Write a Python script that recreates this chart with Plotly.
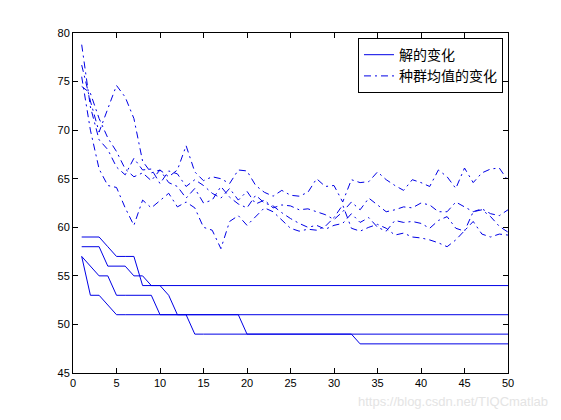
import plotly.graph_objects as go

gens = list(range(1, 51))

# best solution per generation (4 runs)
best_1 = [59, 59, 59, 58, 57, 57, 57, 54, 54, 54] + [54] * 40
best_2 = [58, 58, 58, 56, 56, 56, 55, 55, 54, 54, 53, 51, 51, 49] + [49] * 18 + [48] * 18
best_3 = [57, 53, 53, 52, 51] + [51] * 45
best_4 = [57, 56, 55, 55, 53, 53, 53, 53, 53, 51] + [51] * 9 + [49] * 31

# population mean per generation (4 runs)
mean_1 = [78.8, 72.4, 69.0, 68.0, 66.2, 65.4, 67.1, 65.9, 66.0, 64.5,
          65.8, 65.5, 64.2, 64.9, 64.3, 63.5, 63.0, 64.0, 62.8, 63.7,
          62.4, 62.8, 62.0, 62.3, 62.2, 61.8, 61.9, 61.6, 61.3, 60.8,
          61.6, 62.6, 61.8, 63.0, 62.3, 61.6, 61.8, 62.1, 62.0, 62.5,
          62.3, 61.6, 61.6, 62.6, 62.1, 61.6, 61.9, 61.4, 61.2, 61.8]
mean_2 = [76.7, 73.0, 69.8, 72.2, 74.6, 73.4, 71.2, 66.8, 65.6, 65.9,
          65.2, 65.9, 68.4, 65.7, 64.8, 65.2, 65.0, 64.5, 65.9, 65.8,
          64.3, 63.6, 63.2, 63.8, 63.3, 63.2, 63.6, 65.0, 64.2, 64.3,
          62.6, 64.9, 64.6, 64.7, 65.7, 64.9, 64.3, 63.8, 64.9, 64.6,
          64.2, 65.9, 65.2, 64.0, 66.1, 64.6, 65.6, 66.0, 66.1, 64.8]
mean_3 = [75.5, 70.0, 66.0, 64.3, 64.1, 62.0, 60.2, 62.8, 62.0, 62.8,
          63.5, 62.1, 62.6, 62.0, 60.0, 59.7, 57.8, 60.6, 61.2, 60.2,
          61.1, 62.0, 61.6, 60.7, 59.9, 59.6, 59.8, 59.7, 60.1, 61.0,
          62.3, 59.9, 59.6, 60.0, 60.3, 59.9, 59.2, 59.4, 59.0, 58.9,
          58.7, 58.4, 58.0, 58.7, 59.6, 60.6, 59.3, 59.0, 59.3, 59.2]
mean_4 = [74.5, 73.8, 71.2, 69.2, 67.8, 66.0, 65.2, 65.6, 64.8, 65.9,
          64.6, 64.2, 63.0, 64.0, 62.5, 62.8, 64.2, 63.1, 62.4, 62.0,
          63.3, 62.5, 62.2, 61.5, 60.9, 60.4, 60.0, 60.2, 59.8, 60.2,
          60.4, 61.4, 60.5, 61.0, 60.0, 59.6, 60.7, 60.5, 60.6, 60.4,
          59.9, 60.7, 61.1, 59.9, 59.6, 61.6, 61.8, 61.1, 60.1, 59.5]

x_ticks = [0, 5, 10, 15, 20, 25, 30, 35, 40, 45, 50]
y_ticks = [45, 50, 55, 60, 65, 70, 75, 80]

name_best = "解的变化"
name_mean = "种群均值的变化"

BLUE = "#0000e6"
DASHDOT = "7px,4px,2px,4px"

fig = go.Figure()
for i, s in enumerate([best_1, best_2, best_3, best_4]):
    fig.add_trace(go.Scatter(x=gens, y=s, mode="lines", name=name_best,
                             line=dict(color=BLUE, width=1),
                             showlegend=(i == 0)))
for i, s in enumerate([mean_1, mean_2, mean_3, mean_4]):
    fig.add_trace(go.Scatter(x=gens, y=s, mode="lines", name=name_mean,
                             line=dict(color=BLUE, width=1, dash=DASHDOT),
                             showlegend=(i == 0)))

axis_common = dict(showline=True, linecolor="black", linewidth=1, mirror="ticks",
                   ticks="inside", ticklen=5, tickcolor="black", showgrid=False,
                   zeroline=False, tickfont=dict(family="Liberation Sans, Arial", size=11, color="black"))

fig.update_xaxes(range=[0, 50], tickvals=x_ticks, **axis_common)
fig.update_yaxes(range=[45, 80], tickvals=y_ticks, **axis_common)

fig.update_layout(
    width=561, height=420,
    margin=dict(l=73, r=53, t=33, b=47),
    paper_bgcolor="white", plot_bgcolor="white",
    legend=dict(x=0.9885, y=0.985, xanchor="right", yanchor="top",
                bgcolor="white", bordercolor="black", borderwidth=1,
                font=dict(family="Noto Sans CJK SC", size=14, color="black"),
                tracegroupgap=0, itemwidth=30),
    showlegend=True,
)

fig.add_annotation(text="https://blog.csdn.net/TIQCmatlab", xref="paper", yref="paper",
                   x=1.097, y=-0.085, xanchor="right", yanchor="middle", showarrow=False,
                   font=dict(family="Liberation Sans, Arial", size=13, color="#e4e4e4"))

fig.write_html("out.html", config={"displayModeBar": False},
               post_script="document.body.style.margin='0';")
